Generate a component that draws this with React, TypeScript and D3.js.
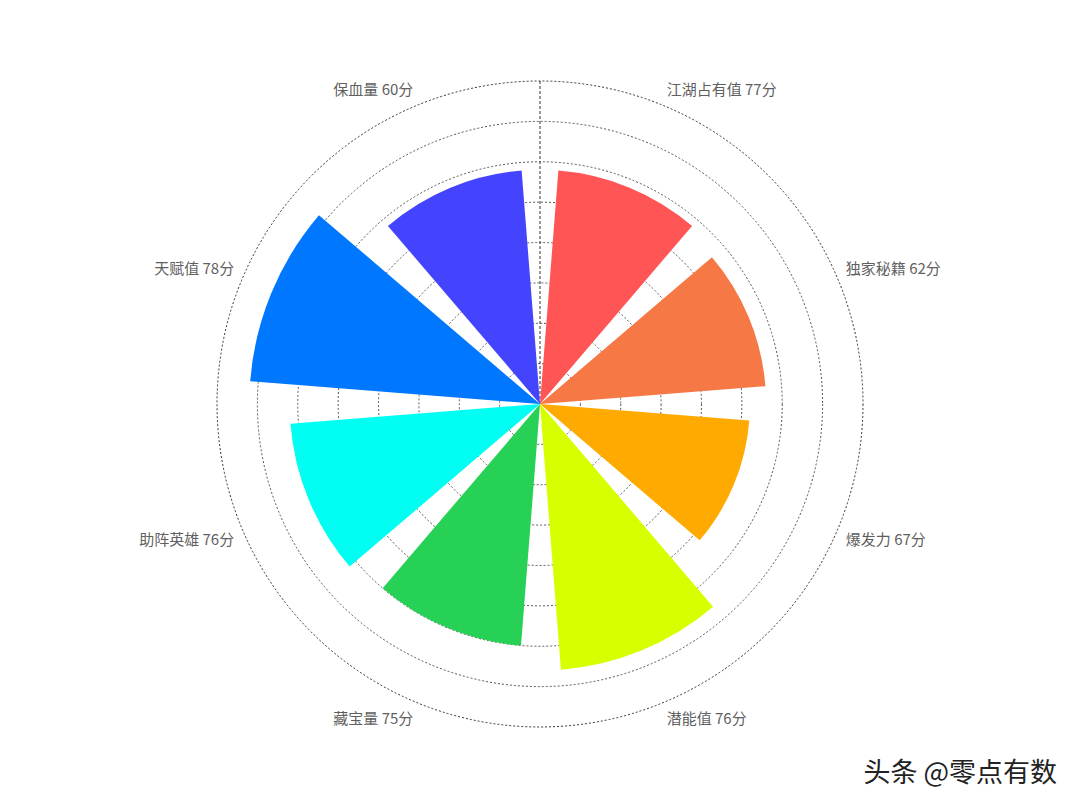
import * as d3 from "d3";

const CATEGORIES = ["江湖占有值", "独家秘籍", "爆发力", "潜能值", "藏宝量", "助阵英雄", "天赋值", "保血量"];
const SCORES = [77, 62, 67, 76, 75, 76, 78, 60];
// bar lengths as drawn (radius axis 0..80)
const VALUES = [58, 56, 52, 66, 60, 62, 72, 58];
const COLORS = ["#FF5555", "#F57845", "#FFAA00", "#D8FF00", "#27D155", "#00FFF2", "#0077FF", "#4444FF"];
const RADIUS_TICKS = [10, 20, 30, 40, 50, 60, 70, 80];

const WIDTH = 1080;
const HEIGHT = 809;
const CX = 540;
const CY = 404;
const OUTER = 323;

const App = () => {
  const r = d3.scaleLinear().domain([0, 80]).range([0, OUTER]);
  const angle = d3
    .scaleBand<string>()
    .domain(CATEGORIES)
    .range([0, 2 * Math.PI])
    .paddingInner(0.2)
    .paddingOuter(0.1);

  const arc = d3.arc<{ name: string; value: number }>()
    .innerRadius(0)
    .outerRadius((d) => r(d.value))
    .startAngle((d) => angle(d.name)!)
    .endAngle((d) => angle(d.name)! + angle.bandwidth());

  const fontFamily = '"Noto Sans CJK SC", "Noto Sans", sans-serif';

  return (
    <svg
      width={WIDTH}
      height={HEIGHT}
      style={{ position: "absolute", left: 0, top: 0, background: "#fff" }}
    >
      <g transform={`translate(${CX},${CY})`}>
        {/* dashed rings */}
        {RADIUS_TICKS.map((t) => (
          <circle
            key={t}
            r={r(t)}
            fill="none"
            stroke={t === 80 ? "#333" : "#555"}
            strokeWidth={1}
            strokeDasharray="2,2"
          />
        ))}
        {/* radius axis line */}
        <line x1={0} y1={0} x2={0} y2={-OUTER} stroke="#333" strokeWidth={1} strokeDasharray="3,2" />

        {/* bars */}
        {CATEGORIES.map((c, i) => (
          <path key={c} d={arc({ name: c, value: VALUES[i] }) ?? ""} fill={COLORS[i]} />
        ))}

        {/* angle labels */}
        {CATEGORIES.map((c, i) => {
          const a = angle(c)! + angle.bandwidth() / 2;
          const rr = OUTER + 8;
          const x = rr * Math.sin(a);
          const y = -rr * Math.cos(a);
          const anchor = Math.sin(a) > 0.01 ? "start" : Math.sin(a) < -0.01 ? "end" : "middle";
          const baseline = Math.cos(a) > 0 ? "auto" : "hanging";
          return (
            <text
              key={c}
              x={x}
              y={Math.cos(a) > 0 ? y - 3 : y + 1}
              textAnchor={anchor}
              dominantBaseline={baseline}
              fontFamily={fontFamily}
              fontSize={15}
              fill="#5f5f5f"
            >
              {`${c} ${SCORES[i]}分`}
            </text>
          );
        })}
      </g>

      {/* watermark */}
      <g fontFamily={fontFamily} fontSize={27} textAnchor="end">
        <text x={1059} y={783} fill="#fff">头条 @零点有数</text>
        <text x={1057} y={782} fill="#222">头条 @零点有数</text>
      </g>
    </svg>
  );
};

export default App;
